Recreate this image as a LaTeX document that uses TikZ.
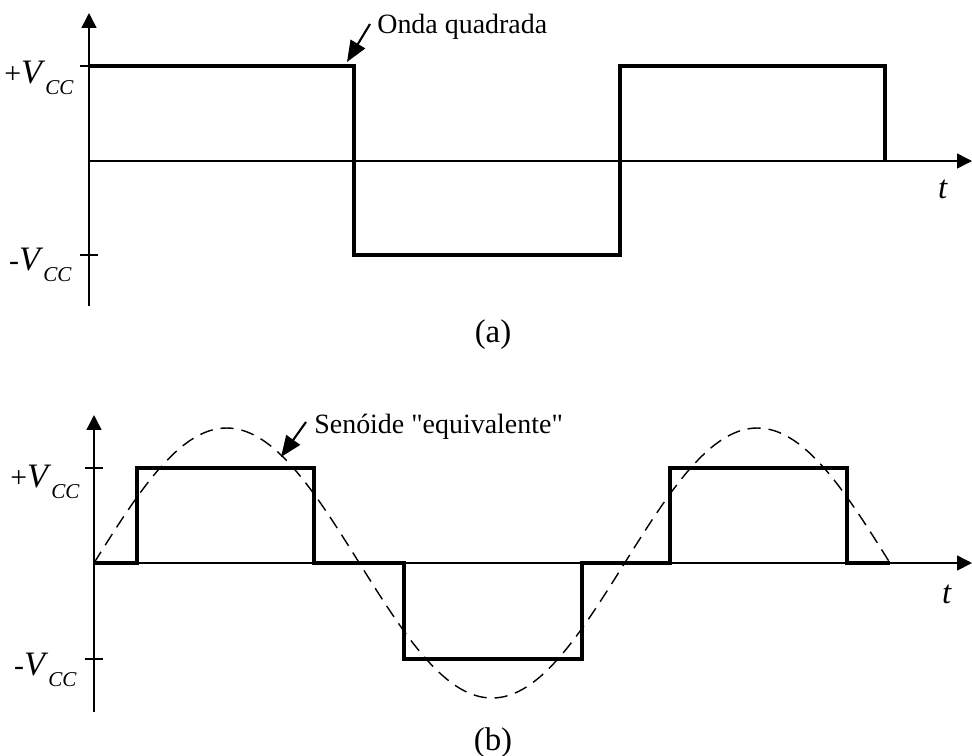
\documentclass[tikz,border=0pt]{standalone}
\usepackage{fontspec}
\setmainfont{Liberation Serif}[Ligatures=TeXOff]
\usetikzlibrary{arrows.meta}
\newcommand{\myvcc}[1]{{\fontsize{17}{17}\selectfont #1}{\fontsize{19.5}{19.5}\selectfont\textit{V}}\raisebox{-6.5pt}{\fontsize{12}{12}\selectfont\textit{CC}}}
\begin{document}
\begin{tikzpicture}[x=0.02cm,y=-0.02cm,
  axis/.style={line width=0.85pt,-{Triangle[length=8.5pt,width=8.5pt]}},
  plain/.style={line width=0.85pt},
  wave/.style={line width=1.8pt,line join=miter},
  sine/.style={line width=0.8pt,dash pattern=on 7.5pt off 4.5pt},
  callout/.style={line width=1.2pt,-{Triangle[length=12pt,width=9.5pt]}},
  lbl/.style={inner sep=0pt,font=\fontsize{15.9}{18}\selectfont},
  captxt/.style={inner sep=0pt,font=\fontsize{18.7}{20}\selectfont},
  vlbl/.style={inner sep=0pt,anchor=base east}]
\useasboundingbox (0,0) rectangle (972,755);

% ---------------- (a) ----------------
\coordinate (aO) at (89,161);
\coordinate (aYb) at (89,306);
\coordinate (aYt) at (89,13);
\coordinate (aXe) at (972,161);
\draw[axis] (aO) -- (aXe);
\draw[axis] (aYb) -- (aYt);
\draw[plain] (80,66) -- (98,66);
\draw[plain] (80,255) -- (98,255);
\draw[wave] (89,66) -- (354,66) -- (354,255) -- (620,255) -- (620,66) -- (885,66) -- (885,161);
\node[vlbl] (apv) at (74,83) {\myvcc{+}};
\node[vlbl] (amv) at (72,270) {\myvcc{-}};
\node[captxt,anchor=base] (at) at (943,198) {\textit{t}};
\node[captxt,anchor=base] (acap) at (493,342) {(a)};
\node[lbl,anchor=base west] (oq) at (377,33) {Onda quadrada};
\coordinate (oqs) at (370,24);
\coordinate (oqt) at (347,62);
\draw[callout] (oqs) -- (oqt);

% ---------------- (b) ----------------
\coordinate (bO) at (94,563);
\coordinate (bYb) at (94,712);
\coordinate (bYt) at (94,415);
\coordinate (bXe) at (972,563);
\draw[axis] (bO) -- (bXe);
\draw[axis] (bYb) -- (bYt);
\draw[plain] (85,468) -- (103,468);
\draw[plain] (85,659) -- (103,659);
\draw[sine] plot[domain=0:540,samples=181,smooth] ({94+\x/180*265.33},{563-135*sin(\x)});
\draw[wave] (94,563) -- (137,563) -- (137,468) -- (314,468) -- (314,563) -- (404,563) -- (404,659) -- (582,659) -- (582,563) -- (670,563) -- (670,468) -- (847,468) -- (847,563) -- (890,563);
\node[vlbl] (bpv) at (80,487) {\myvcc{+}};
\node[vlbl] (bmv) at (77,675) {\myvcc{-}};
\node[captxt,anchor=base] (bt) at (947,603) {\textit{t}};
\node[captxt,anchor=base] (bcap) at (493,750) {(b)};
\node[lbl,anchor=base west] (se) at (314,433) {Senóide "equivalente"};
\coordinate (ses) at (306,422);
\coordinate (set) at (281,457);
\draw[callout] (ses) -- (set);
\end{tikzpicture}
\end{document}
